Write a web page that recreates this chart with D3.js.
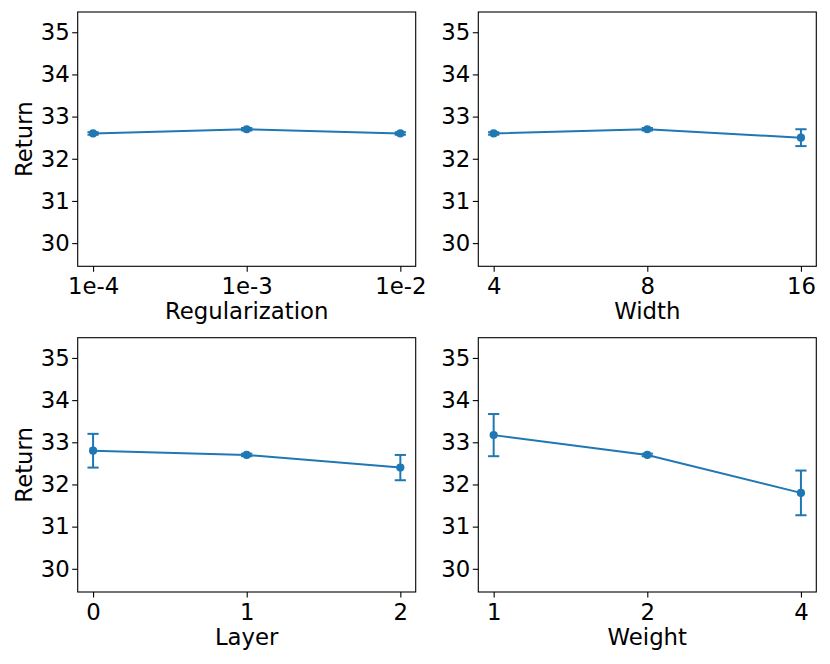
<!DOCTYPE html>
<html>
<head>
<meta charset="utf-8">
<script src="https://cdn.jsdelivr.net/npm/d3@7"></script>
<style>
  body { margin: 0; background: #fff; }
  text { font-family: "DejaVu Sans", sans-serif; fill: #000; }
</style>
</head>
<body>
<script>
// values
var yTicks = [30, 31, 32, 33, 34, 35];

var regLabels = ["1e-4", "1e-3", "1e-2"];
var regMean   = [32.6, 32.7, 32.6];
var regErr    = [0.03, 0.03, 0.03];

var widthLabels = ["4", "8", "16"];
var widthMean   = [32.6, 32.7, 32.5];
var widthErr    = [0.03, 0.03, 0.2];

var layerLabels = ["0", "1", "2"];
var layerMean   = [32.8, 32.7, 32.4];
var layerErr    = [0.4, 0.03, 0.3];

var weightLabels = ["1", "2", "4"];
var weightMean   = [33.17, 32.7, 31.8];
var weightErr    = [0.5, 0.03, 0.53];

var blue = "#1f77b4";
var fs = 22.8;

var svg = d3.select("body").append("svg")
    .attr("width", 830)
    .attr("height", 664);

// panel boxes: [left, right] x [top, bottom]
var cols = [[77.7, 415.7], [478.3, 816.3]];
var rows = [[12, 266.3], [337.7, 592]];

var panels = [
  { labels: regLabels,    mean: regMean,    err: regErr,    xlabel: "Regularization", col: 0, row: 0 },
  { labels: widthLabels,  mean: widthMean,  err: widthErr,  xlabel: "Width",          col: 1, row: 0 },
  { labels: layerLabels,  mean: layerMean,  err: layerErr,  xlabel: "Layer",          col: 0, row: 1 },
  { labels: weightLabels, mean: weightMean, err: weightErr, xlabel: "Weight",         col: 1, row: 1 }
];

panels.forEach(function(p) {
    var x0 = cols[p.col][0], x1 = cols[p.col][1];
    var y0 = rows[p.row][0], y1 = rows[p.row][1];

    var x = d3.scalePoint().domain(p.labels).range([x0, x1]).padding(0.1);
    var y = d3.scaleLinear().domain([29.45, 35.48]).range([y1, y0]);

    var g = svg.append("g");

    // axes
    var ya = g.append("g")
        .attr("transform", "translate(" + x0 + ",0)")
        .call(d3.axisLeft(y).tickValues(yTicks).tickFormat(d3.format("d"))
            .tickSize(5.5).tickPadding(2.5));
    var xa = g.append("g")
        .attr("transform", "translate(0," + y1 + ")")
        .call(d3.axisBottom(x).tickSize(5.5).tickPadding(6.3));
    [ya, xa].forEach(function(a) {
        a.select(".domain").remove();
        a.selectAll(".tick line").attr("stroke", "#000").attr("stroke-width", 1.1);
        a.selectAll(".tick text")
            .style("font-family", "DejaVu Sans")
            .style("font-size", fs + "px")
            .attr("fill", "#000");
    });

    // frame
    g.append("rect")
        .attr("x", x0).attr("y", y0)
        .attr("width", x1 - x0).attr("height", y1 - y0)
        .attr("fill", "none")
        .attr("stroke", "#000")
        .attr("stroke-width", 1.1);

    var pts = p.labels.map(function(l, i) {
        return { label: l, m: p.mean[i], e: p.err[i] };
    });

    // line
    g.append("path")
        .datum(pts)
        .attr("fill", "none")
        .attr("stroke", blue)
        .attr("stroke-width", 2)
        .attr("d", d3.line()
            .x(function(d) { return x(d.label); })
            .y(function(d) { return y(d.m); }));

    // error bars
    var eb = g.selectAll(".eb").data(pts).enter().append("g")
        .attr("stroke", blue)
        .attr("stroke-width", 2);
    eb.append("line")
        .attr("x1", function(d) { return x(d.label); })
        .attr("x2", function(d) { return x(d.label); })
        .attr("y1", function(d) { return y(d.m - d.e); })
        .attr("y2", function(d) { return y(d.m + d.e); });
    [-1, 1].forEach(function(s) {
        eb.append("line")
            .attr("x1", function(d) { return x(d.label) - 5.6; })
            .attr("x2", function(d) { return x(d.label) + 5.6; })
            .attr("y1", function(d) { return y(d.m + s * d.e); })
            .attr("y2", function(d) { return y(d.m + s * d.e); });
    });

    // markers
    g.selectAll(".dot").data(pts).enter().append("circle")
        .attr("cx", function(d) { return x(d.label); })
        .attr("cy", function(d) { return y(d.m); })
        .attr("r", 4.1)
        .attr("fill", blue);

    // x label
    g.append("text")
        .attr("x", (x0 + x1) / 2)
        .attr("y", y1 + 52.5)
        .attr("text-anchor", "middle")
        .style("font-size", fs + "px")
        .text(p.xlabel);

    // y label only on left column
    if (p.col == 0) {
        g.append("text")
            .attr("transform", "translate(31.5," + ((y0 + y1) / 2) + ") rotate(-90)")
            .attr("text-anchor", "middle")
            .style("font-size", fs + "px")
            .text("Return");
    }
});
</script>
</body>
</html>
